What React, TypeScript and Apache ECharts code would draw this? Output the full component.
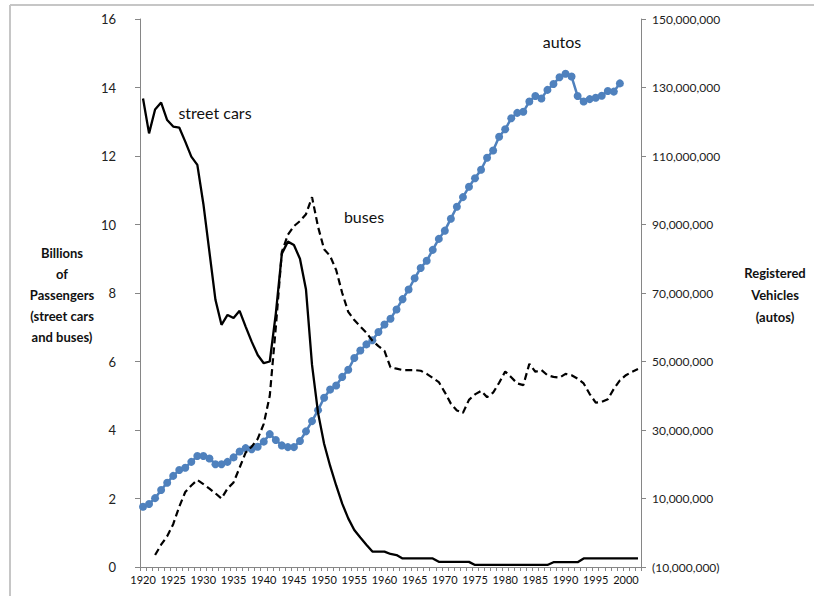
import React, { useEffect, useRef } from "react";
import * as echarts from "echarts";

const years = [
  "1920","1921","1922","1923","1924","1925","1926","1927","1928","1929",
  "1930","1931","1932","1933","1934","1935","1936","1937","1938","1939",
  "1940","1941","1942","1943","1944","1945","1946","1947","1948","1949",
  "1950","1951","1952","1953","1954","1955","1956","1957","1958","1959",
  "1960","1961","1962","1963","1964","1965","1966","1967","1968","1969",
  "1970","1971","1972","1973","1974","1975","1976","1977","1978","1979",
  "1980","1981","1982","1983","1984","1985","1986","1987","1988","1989",
  "1990","1991","1992","1993","1994","1995","1996","1997","1998","1999",
  "2000","2001","2002",
];

// Billions of passengers
const streetCars = [
  13.68, 12.66, 13.36, 13.56, 13.05, 12.86, 12.83, 12.42, 11.98, 11.74,
  10.6, 9.2, 7.8, 7.07, 7.36, 7.27, 7.48, 7.02, 6.58, 6.19,
  5.95, 6.0, 7.4, 9.15, 9.5, 9.4, 9.0, 8.1, 5.9, 4.5,
  3.6, 2.95, 2.38, 1.85, 1.42, 1.08, 0.86, 0.65, 0.45, 0.45,
  0.45, 0.38, 0.35, 0.25, 0.25, 0.25, 0.25, 0.25, 0.25, 0.15,
  0.15, 0.15, 0.15, 0.15, 0.15, 0.06, 0.06, 0.06, 0.06, 0.06,
  0.06, 0.06, 0.06, 0.06, 0.06, 0.06, 0.06, 0.06, 0.14, 0.14,
  0.14, 0.14, 0.14, 0.25, 0.25, 0.25, 0.25, 0.25, 0.25, 0.25,
  0.25, 0.25, 0.25,
];

const buses = [
  null, null, 0.35, 0.65, 0.9, 1.25, 1.76, 2.19, 2.38, 2.54,
  2.42, 2.29, 2.15, 2.0, 2.29, 2.47, 2.9, 3.34, 3.51, 3.74,
  4.18, 5.0, 7.0, 9.2, 9.7, 9.95, 10.1, 10.3, 10.8, 9.93,
  9.28, 9.08, 8.67, 8.0, 7.45, 7.21, 7.02, 6.84, 6.61, 6.45,
  6.31, 5.83, 5.79, 5.75, 5.75, 5.75, 5.73, 5.64, 5.52, 5.4,
  5.1, 4.77, 4.57, 4.5, 4.88, 5.04, 5.14, 4.96, 5.09, 5.38,
  5.71, 5.54, 5.36, 5.31, 5.93, 5.7, 5.75, 5.6, 5.55, 5.53,
  5.64, 5.6, 5.5, 5.36, 5.05, 4.8, 4.82, 4.9, 5.2, 5.45,
  5.6, 5.7, 5.78,
];

// Registered vehicles (autos), millions
const autos = [
  7.6, 8.4, 10.1, 12.5, 14.6, 16.6, 18.3, 19.0, 20.7, 22.4,
  22.4, 21.7, 20.0, 20.0, 20.7, 22.0, 23.7, 24.7, 24.4, 25.1,
  26.6, 28.8, 27.1, 25.5, 25.0, 25.0, 26.8, 29.6, 32.6, 35.8,
  39.4, 41.8, 43.0, 45.5, 47.6, 51.0, 53.2, 55.0, 56.2, 58.6,
  60.8, 62.5, 65.2, 68.2, 71.0, 74.3, 77.3, 79.4, 82.6, 85.8,
  88.2, 91.7, 95.2, 98.0, 101.0, 103.5, 106.0, 109.5, 111.6, 115.6,
  117.8, 121.0, 122.6, 122.9, 125.9, 127.5, 126.8, 129.3, 131.0, 133.0,
  134.0, 133.2, 127.5, 125.9, 126.6, 127.0, 127.6, 129.0, 128.8, 131.2,
  null, null, null,
];

const FONT = "Lato, 'Open Sans', sans-serif";

function fmtMillions(v: number): string {
  const s = Math.abs(Math.round(v * 1e6))
    .toString()
    .replace(/\B(?=(\d{3})+(?!\d))/g, ",");
  return v < 0 ? `(${s})` : s;
}

export default function App() {
  const ref = useRef<HTMLDivElement>(null);

  useEffect(() => {
    if (!ref.current) return;
    const chart = echarts.init(ref.current, null, { renderer: "svg" });
    const axisGray = "#868686";
    chart.setOption({
      animation: false,
      backgroundColor: "#ffffff",
      textStyle: { fontFamily: FONT },
      grid: { left: 140, right: 173, top: 19, bottom: 29, containLabel: false },
      xAxis: {
        type: "category",
        data: years,
        boundaryGap: true,
        axisLine: { show: true, lineStyle: { color: axisGray, width: 1 } },
        axisTick: { show: true, interval: 0, length: 4, lineStyle: { color: axisGray } },
        axisLabel: {
          interval: 4,
          fontSize: 11,
          color: "#111",
          fontFamily: FONT,
          margin: 7,
        },
        splitLine: { show: false },
      },
      yAxis: [
        {
          type: "value",
          min: 0,
          max: 16,
          interval: 2,
          position: "left",
          axisLine: { show: true, lineStyle: { color: axisGray, width: 1 } },
          axisTick: { show: true, length: 5, lineStyle: { color: axisGray } },
          axisLabel: { fontSize: 13, color: "#222", fontFamily: FONT, margin: 24 },
          splitLine: { show: false },
        },
        {
          type: "value",
          min: -10,
          max: 150,
          interval: 20,
          position: "right",
          axisLine: { show: true, lineStyle: { color: axisGray, width: 1 } },
          axisTick: { show: true, length: 5, lineStyle: { color: axisGray } },
          axisLabel: {
            fontSize: 12,
            color: "#222",
            fontFamily: FONT,
            margin: 11,
            formatter: (v: number) => fmtMillions(v),
          },
          splitLine: { show: false },
        },
      ],
      series: [
        {
          name: "autos",
          type: "line",
          yAxisIndex: 1,
          data: autos,
          symbol: "circle",
          symbolSize: 8,
          showSymbol: true,
          showAllSymbol: true,
          lineStyle: { color: "#4f81bd", width: 2.5 },
          itemStyle: { color: "#4f81bd", borderWidth: 0 },
          z: 2,
        },
        {
          name: "buses",
          type: "line",
          yAxisIndex: 0,
          data: buses,
          symbol: "none",
          lineStyle: { color: "#000", width: 2.2, type: [7, 4] },
          z: 3,
        },
        {
          name: "street cars",
          type: "line",
          yAxisIndex: 0,
          data: streetCars,
          symbol: "none",
          lineStyle: { color: "#000", width: 2.3 },
          z: 4,
        },
      ],
      graphic: [
        {
          type: "line",
          shape: { x1: 10, y1: 5, x2: 814, y2: 5 },
          style: { stroke: "#c6c6c6", lineWidth: 2 },
        },
        {
          type: "line",
          shape: { x1: 10, y1: 5, x2: 10, y2: 596 },
          style: { stroke: "#c6c6c6", lineWidth: 2 },
        },
        {
          type: "text",
          x: 62,
          y: 295,
          style: {
            text: "Billions\nof\nPassengers\n(street cars\nand buses)",
            font: `bold 13px ${FONT}`,
            fill: "#111",
            align: "center",
            verticalAlign: "middle",
            lineHeight: 21,
          },
        },
        {
          type: "text",
          x: 775,
          y: 295,
          style: {
            text: "Registered\nVehicles\n(autos)",
            font: `bold 13px ${FONT}`,
            fill: "#111",
            align: "center",
            verticalAlign: "middle",
            lineHeight: 22,
          },
        },
        {
          type: "text",
          x: 215,
          y: 112,
          style: {
            text: "street cars",
            font: `16px ${FONT}`,
            fill: "#111",
            align: "center",
            verticalAlign: "middle",
          },
        },
        {
          type: "text",
          x: 364,
          y: 216,
          style: {
            text: "buses",
            font: `16px ${FONT}`,
            fill: "#111",
            align: "center",
            verticalAlign: "middle",
          },
        },
        {
          type: "text",
          x: 562,
          y: 41,
          style: {
            text: "autos",
            font: `16px ${FONT}`,
            fill: "#111",
            align: "center",
            verticalAlign: "middle",
          },
        },
      ],
    });
    return () => chart.dispose();
  }, []);

  return (
    <div
      ref={ref}
      style={{ position: "absolute", left: 0, top: 0, width: 814, height: 596, background: "#fff" }}
    />
  );
}
